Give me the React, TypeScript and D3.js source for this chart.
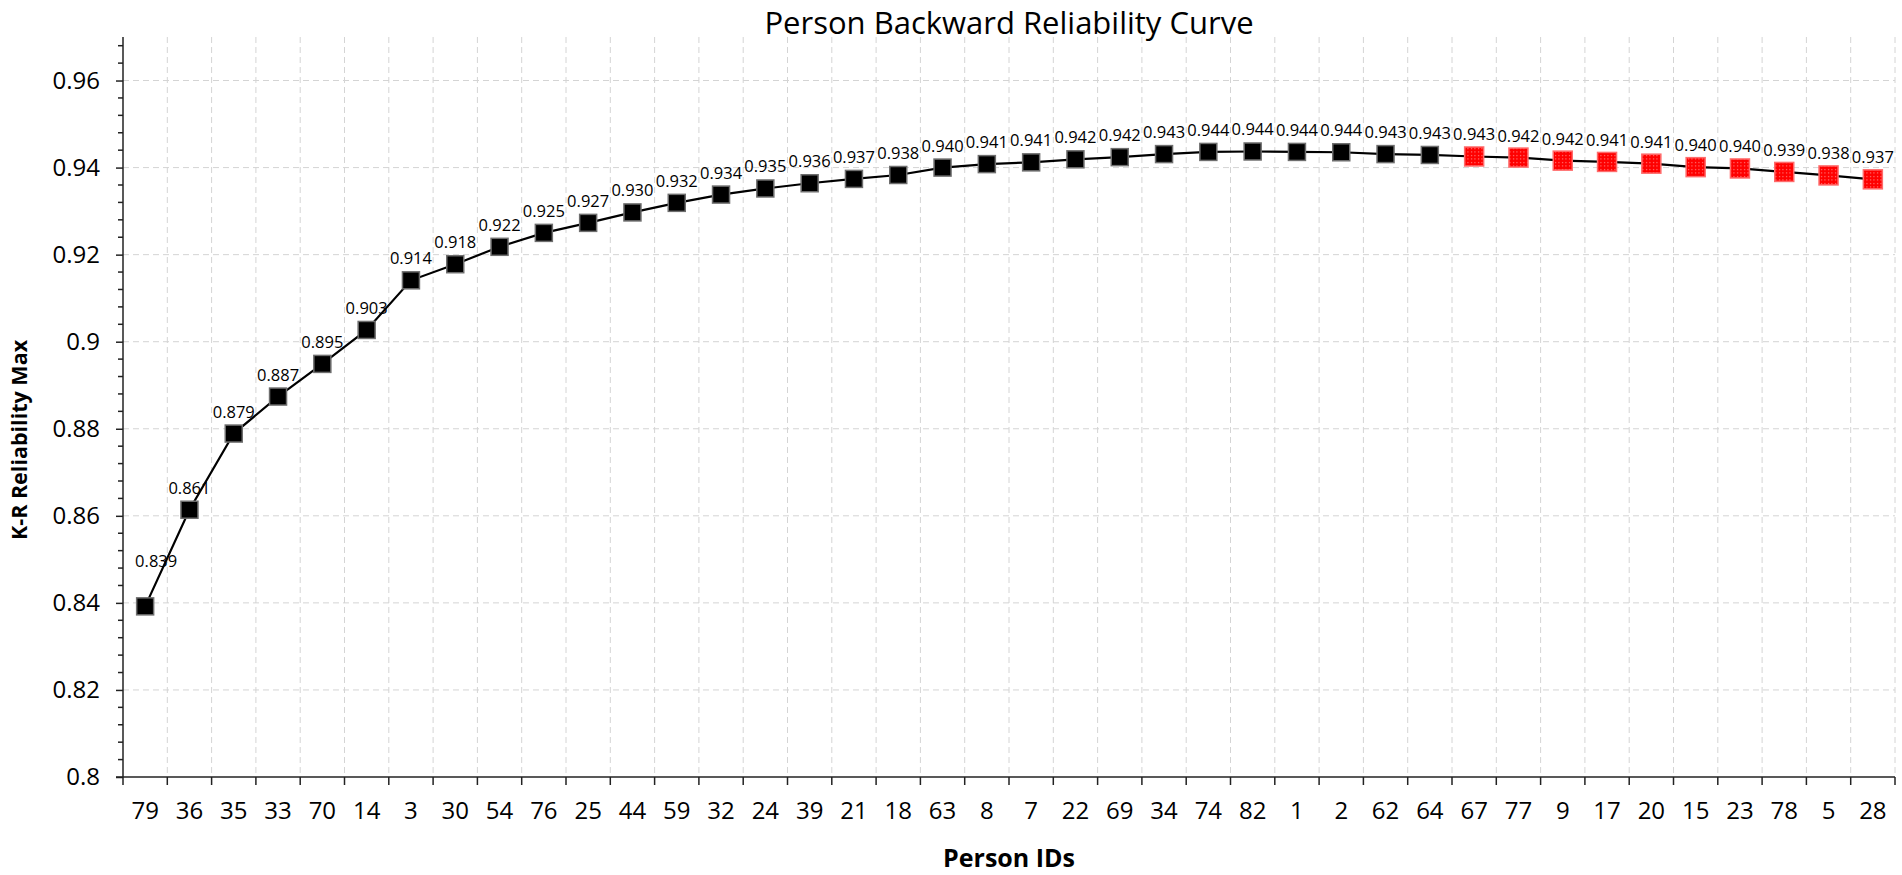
import { useEffect, useRef } from "react";
import * as d3 from "d3";

const personIds = [
  "79", "36", "35", "33", "70", "14", "3", "30", "54", "76",
  "25", "44", "59", "32", "24", "39", "21", "18", "63", "8",
  "7", "22", "69", "34", "74", "82", "1", "2", "62", "64",
  "67", "77", "9", "17", "20", "15", "23", "78", "5", "28",
];
const reliability = [
  0.8392, 0.8614, 0.8789, 0.8874, 0.8949, 0.9027, 0.9141, 0.9178, 0.9218, 0.925,
  0.9273, 0.9297, 0.9319, 0.9338, 0.9352, 0.9364, 0.9374, 0.9383, 0.94, 0.9408,
  0.9412, 0.9419, 0.9424, 0.9431, 0.9436, 0.9437, 0.9436, 0.94352, 0.9431, 0.9429,
  0.94255, 0.9423, 0.9416, 0.9413, 0.9409, 0.9401, 0.9398, 0.939, 0.9382, 0.9373,
];
// persons flagged in red
const flaggedIds = ["67", "77", "9", "17", "20", "15", "23", "78", "5", "28"];
const yTicks = [0.8, 0.82, 0.84, 0.86, 0.88, 0.9, 0.92, 0.94, 0.96];

const FONT = "'Open Sans', 'Noto Sans', sans-serif";

const App = () => {
  const svgRef = useRef<SVGSVGElement | null>(null);

  useEffect(() => {
    if (!svgRef.current) return;
    const svg = d3.select(svgRef.current);
    svg.selectAll("*").remove();

    const width = 1902;
    const height = 875;
    const margin = { top: 37, right: 7, bottom: 98, left: 123 };

    const data = personIds.map((id, i) => ({ id, value: reliability[i], red: flaggedIds.includes(id) }));

    const x = d3.scaleBand<string>()
      .domain(personIds)
      .range([margin.left, width - margin.right]);

    const y = d3.scaleLinear()
      .domain([0.8, 0.97])
      .range([height - margin.bottom, margin.top]);

    // dotted fill for the red markers
    const defs = svg.append("defs");
    const pat = defs.append("pattern")
      .attr("id", "redDots")
      .attr("width", 3.5)
      .attr("height", 3.5)
      .attr("patternUnits", "userSpaceOnUse");
    pat.append("rect").attr("width", 3.5).attr("height", 3.5).attr("fill", "#ff0000");
    pat.append("rect").attr("x", 1).attr("y", 1).attr("width", 1).attr("height", 1).attr("fill", "#ffb0b0");

    const bottom = height - margin.bottom;
    const boundaries = personIds.map(id => x(id)!).concat([width - margin.right]);

    // gridlines
    const grid = svg.append("g")
      .attr("stroke", "#d4d4d4")
      .attr("stroke-width", 1)
      .attr("stroke-dasharray", "6,4");
    grid.selectAll("line.v")
      .data(boundaries.slice(1))
      .join("line")
      .attr("x1", d => d).attr("x2", d => d)
      .attr("y1", margin.top).attr("y2", bottom);
    grid.selectAll("line.h")
      .data(yTicks.slice(1))
      .join("line")
      .attr("x1", margin.left).attr("x2", width - margin.right)
      .attr("y1", d => y(d)).attr("y2", d => y(d));

    // y axis
    const yAxis = svg.append("g")
      .attr("transform", `translate(${margin.left},0)`)
      .call(d3.axisLeft(y).tickValues(yTicks).tickSize(7).tickPadding(16)
        .tickFormat(d => String(+(+d).toFixed(2))));
    yAxis.select(".domain").remove();
    yAxis.selectAll("text").attr("font-family", FONT).attr("font-size", 24).attr("fill", "#000");
    yAxis.selectAll("line").attr("stroke", "#222").attr("stroke-width", 1.5);

    const minor = d3.range(0, 43).map(i => 0.8 + i * 0.004).filter(v => !yTicks.some(t => Math.abs(t - v) < 1e-6));
    svg.append("g").selectAll("line")
      .data(minor)
      .join("line")
      .attr("x1", margin.left - 5).attr("x2", margin.left)
      .attr("y1", d => y(d)).attr("y2", d => y(d))
      .attr("stroke", "#222").attr("stroke-width", 1.5);

    svg.append("line")
      .attr("x1", margin.left).attr("x2", margin.left)
      .attr("y1", margin.top).attr("y2", bottom)
      .attr("stroke", "#222").attr("stroke-width", 1.5);

    // x axis
    const xAxis = svg.append("g")
      .attr("transform", `translate(0,${bottom})`)
      .call(d3.axisBottom(x).tickSize(0).tickPadding(25));
    xAxis.select(".domain").remove();
    xAxis.selectAll("text").attr("font-family", FONT).attr("font-size", 24).attr("fill", "#000");

    svg.append("g").selectAll("line")
      .data(boundaries)
      .join("line")
      .attr("x1", d => d).attr("x2", d => d)
      .attr("y1", bottom).attr("y2", bottom + 8)
      .attr("stroke", "#222").attr("stroke-width", 1.5);

    svg.append("line")
      .attr("x1", margin.left - 7).attr("x2", width - margin.right)
      .attr("y1", bottom).attr("y2", bottom)
      .attr("stroke", "#222").attr("stroke-width", 1.5);

    // line
    const cx = (d: { id: string }) => x(d.id)! + x.bandwidth() / 2;
    const line = d3.line<{ id: string; value: number }>()
      .x(d => cx(d))
      .y(d => y(d.value));

    svg.append("path")
      .datum(data)
      .attr("fill", "none")
      .attr("stroke", "#000")
      .attr("stroke-width", 2.2)
      .attr("d", line);

    // markers
    svg.append("g").selectAll("rect")
      .data(data)
      .join("rect")
      .attr("x", d => cx(d) - (d.red ? 9.5 : 8.5))
      .attr("y", d => y(d.value) - (d.red ? 9.5 : 8.5))
      .attr("width", d => (d.red ? 19 : 17))
      .attr("height", d => (d.red ? 19 : 17))
      .attr("fill", d => (d.red ? "url(#redDots)" : "#000"))
      .attr("stroke", d => (d.red ? "#ff6b6b" : "#6e6e6e"))
      .attr("stroke-width", 1.5);

    // data labels
    svg.append("g").selectAll("text")
      .data(data)
      .join("text")
      .attr("x", (d, i) => cx(d) + (i === 0 ? 11 : 0))
      .attr("y", (d, i) => y(d.value) - (i === 0 ? 39 : 16))
      .attr("text-anchor", "middle")
      .attr("font-family", FONT)
      .attr("font-size", 16.5)
      .attr("fill", "#000")
      .text(d => d.value.toFixed(3));

    // titles
    svg.append("text")
      .attr("x", (margin.left + width - margin.right) / 2)
      .attr("y", 34)
      .attr("text-anchor", "middle")
      .attr("font-family", FONT)
      .attr("font-size", 31)
      .text("Person Backward Reliability Curve");

    svg.append("text")
      .attr("x", (margin.left + width - margin.right) / 2)
      .attr("y", 867)
      .attr("text-anchor", "middle")
      .attr("font-family", FONT)
      .attr("font-weight", "bold")
      .attr("font-size", 25)
      .text("Person IDs");

    svg.append("text")
      .attr("transform", "translate(27,440) rotate(-90)")
      .attr("text-anchor", "middle")
      .attr("font-family", FONT)
      .attr("font-weight", "bold")
      .attr("font-size", 21.5)
      .text("K-R Reliability Max");
  }, []);

  return (
    <svg
      ref={svgRef}
      width={1902}
      height={875}
      style={{ position: "absolute", left: 0, top: 0, background: "#fff" }}
    />
  );
};

export default App;
